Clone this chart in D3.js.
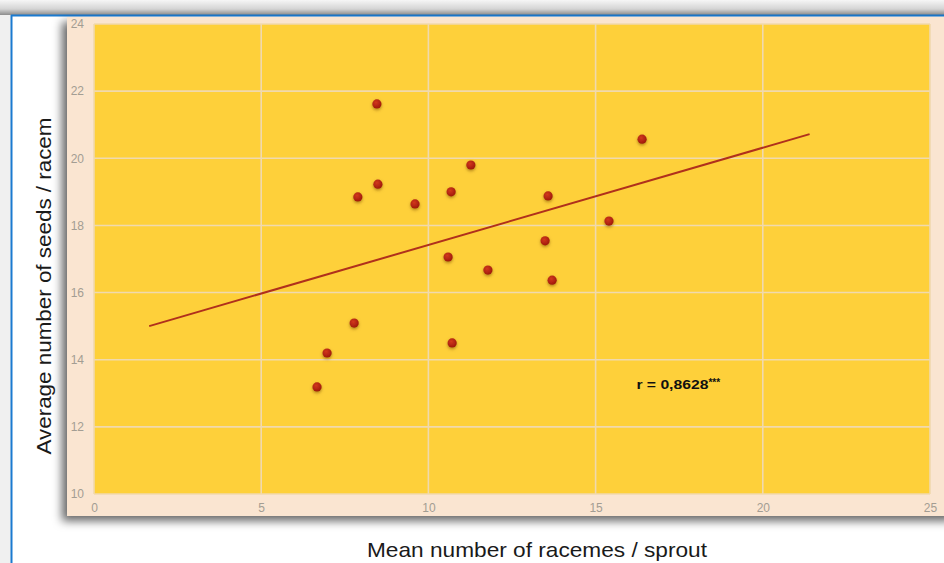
<!DOCTYPE html>
<html><head><meta charset="utf-8">
<script src="https://cdn.jsdelivr.net/npm/d3@7"></script>
<style>html,body{margin:0;padding:0;background:#fff;overflow:hidden}</style>
</head><body>
<svg id="c" width="944" height="563"></svg>
<script>
const xTicks = [0, 5, 10, 15, 20, 25];
const yTicks = [10, 12, 14, 16, 18, 20, 22, 24];
const racemesPerSprout = [6.67, 6.97, 7.78, 7.89, 8.49, 8.46, 9.60, 10.59, 10.68, 10.71, 11.27, 11.78, 13.49, 13.58, 13.70, 15.40, 16.39];
const seedsPerRacem    = [13.19, 14.20, 15.09, 18.85, 19.23, 21.62, 18.64, 17.06, 19.00, 14.50, 19.80, 16.67, 17.54, 18.88, 16.37, 18.13, 20.57];
const trendX = [1.65, 21.40];
const trendY = [15.00, 20.72];
const xTitle = "Mean number of racemes / sprout";
const yTitle = "Average number of seeds / racem";
const rLabel = "r = 0,8628";
const rStars = "***";
const rPos = [16.22, 13.12];

const svg = d3.select("#c");
const defs = svg.append("defs");

const topGrad = defs.append("linearGradient").attr("id","topg").attr("x1",0).attr("y1",0).attr("x2",0).attr("y2",1);
topGrad.append("stop").attr("offset","0%").attr("stop-color","#f6f6f6");
topGrad.append("stop").attr("offset","60%").attr("stop-color","#d4d4d4");
topGrad.append("stop").attr("offset","100%").attr("stop-color","#8c8c8c");

const sh = defs.append("filter").attr("id","panelShadow").attr("x","-10%").attr("y","-10%").attr("width","120%").attr("height","125%");
sh.append("feDropShadow").attr("dx",-5).attr("dy",5).attr("stdDeviation",5).attr("flood-color","#000").attr("flood-opacity",0.6);

const ps = defs.append("filter").attr("id","ptShadow").attr("x","-100%").attr("y","-100%").attr("width","300%").attr("height","300%");
ps.append("feDropShadow").attr("dx",0).attr("dy",1.5).attr("stdDeviation",1.5).attr("flood-color","#7a4a00").attr("flood-opacity",0.6);

const rg = defs.append("radialGradient").attr("id","ptg").attr("cx","40%").attr("cy","35%").attr("r","65%");
rg.append("stop").attr("offset","0%").attr("stop-color","#d2381c");
rg.append("stop").attr("offset","100%").attr("stop-color","#a01a0c");

// outer background / frame
svg.append("rect").attr("x",0).attr("y",0).attr("width",944).attr("height",563).attr("fill","#f0f0f0");
svg.append("rect").attr("x",0).attr("y",0).attr("width",944).attr("height",15).attr("fill","url(#topg)");
svg.append("rect").attr("x",12).attr("y",16).attr("width",940).attr("height",560).attr("fill","#ffffff");
svg.append("line").attr("x1",11.5).attr("y1",15).attr("x2",11.5).attr("y2",563).attr("stroke","#1a7ad0").attr("stroke-width",2);
svg.append("line").attr("x1",11).attr("y1",15.5).attr("x2",944).attr("y2",15.5).attr("stroke","#1a7ad0").attr("stroke-width",2);

// chart panel
svg.append("rect").attr("x",67).attr("y",17).attr("width",890).attr("height",499)
  .attr("fill","#fae5d1").attr("filter","url(#panelShadow)");

const x = d3.scaleLinear().domain([0,25]).range([94,930]);
const y = d3.scaleLinear().domain([10,24]).range([494,24]);

svg.append("rect").attr("x",x(0)).attr("y",y(24)).attr("width",x(25)-x(0)).attr("height",y(10)-y(24)).attr("fill","#fed03a");

const grid = svg.append("g").attr("stroke","#f0d9ae").attr("stroke-width",1.6);
grid.selectAll("line.v").data(xTicks).join("line").attr("class","v")
  .attr("x1",d=>x(d)).attr("x2",d=>x(d)).attr("y1",y(24)).attr("y2",y(10));
grid.selectAll("line.h").data(yTicks).join("line").attr("class","h")
  .attr("y1",d=>y(d)).attr("y2",d=>y(d)).attr("x1",x(0)).attr("x2",x(25));

// axes (labels only)
const xAxis = d3.axisBottom(x).tickValues(xTicks).tickSize(0).tickPadding(0).tickFormat(d3.format("d"));
const gx = svg.append("g").attr("transform","translate(0,503)").call(xAxis);
gx.select(".domain").remove();
gx.selectAll("text").attr("font-family","Liberation Sans, Arial, sans-serif").attr("font-size",12).attr("fill","#a39d93").attr("dy","0.71em");

const yAxis = d3.axisLeft(y).tickValues(yTicks).tickSize(0).tickPadding(0).tickFormat(d3.format("d"));
const gy = svg.append("g").attr("transform","translate(84,0)").call(yAxis);
gy.select(".domain").remove();
gy.selectAll("text").attr("font-family","Liberation Sans, Arial, sans-serif").attr("font-size",12).attr("fill","#a39d93");

// trend line
const line = d3.line().x(d=>x(d[0])).y(d=>y(d[1]));
svg.append("path").datum(d3.zip(trendX, trendY)).attr("d", line)
  .attr("fill","none").attr("stroke","#b0301c").attr("stroke-width",2);

// points
svg.append("g").selectAll("circle").data(d3.zip(racemesPerSprout, seedsPerRacem)).join("circle")
  .attr("cx",d=>x(d[0])).attr("cy",d=>y(d[1])).attr("r",4.6)
  .attr("fill","url(#ptg)").attr("filter","url(#ptShadow)");

// annotation
const ann = svg.append("text").attr("x",x(rPos[0])).attr("y",y(rPos[1]))
  .attr("font-family","Liberation Sans, Arial, sans-serif").attr("font-weight","bold").attr("font-size",13).attr("fill","#111");
ann.append("tspan").text(rLabel).attr("textLength",72).attr("lengthAdjust","spacingAndGlyphs");
ann.append("tspan").text(rStars).attr("font-size",10).attr("dy",-3);

// axis titles
svg.append("text").attr("x",537).attr("y",557).attr("text-anchor","middle")
  .attr("font-family","Liberation Sans, Arial, sans-serif").attr("font-size",21).attr("fill","#1a1a1a")
  .attr("textLength",340).attr("lengthAdjust","spacingAndGlyphs").text(xTitle);
svg.append("text").attr("transform","translate(51,286) rotate(-90)").attr("text-anchor","middle")
  .attr("font-family","Liberation Sans, Arial, sans-serif").attr("font-size",21).attr("fill","#1a1a1a")
  .attr("textLength",337).attr("lengthAdjust","spacingAndGlyphs").text(yTitle);
</script>
</body></html>
